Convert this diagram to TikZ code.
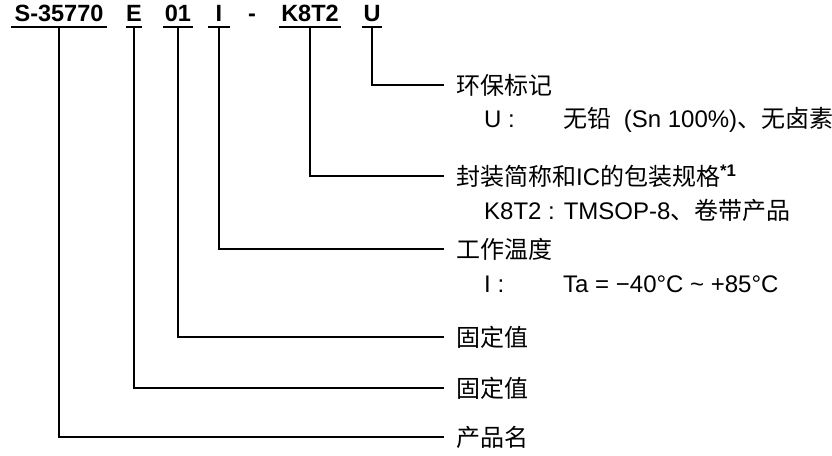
\documentclass[tikz,border=0pt]{standalone}
\usepackage{fontspec}
\setmainfont{Liberation Sans}
\newfontfamily\cjk{Noto Sans CJK SC}

\tikzset{
    code/.style={font=\fontsize{23.5}{26}\selectfont\bfseries, inner xsep=0pt, inner ysep=5pt, text depth=0pt, anchor=south},
    field/.style={font=\fontsize{24}{28}\selectfont, anchor=west, inner xsep=12pt, inner ysep=0pt},
    detail/.style={font=\fontsize{24}{28}\selectfont, anchor=west, inner sep=0pt},
    link/.style={line width=1.6pt},
}

\begin{document}
\begin{tikzpicture}[x=1pt,y=-1pt]

    \useasboundingbox (0,0) rectangle (832,455);

    \node[code,minimum width=96pt] (S) at (59,27) {S-35770};
    \node[code,minimum width=14pt] (E) at (134,27) {E};
    \node[code,minimum width=30pt] (N) at (178,27) {01};
    \node[code,minimum width=22pt] (I) at (219,27) {I};
    \node[code] (dash) at (252,27) {-};
    \node[code,minimum width=62pt] (K) at (310,27) {K8T2};
    \node[code,minimum width=20pt] (U) at (372,27) {U};

    \node[field] (env) at (444,85) {\cjk 环保标记};
    \node[detail] (envU) at (484,120) {\makebox[79pt][l]{U :}{\cjk 无铅}\hspace{6pt} (Sn 100\%){\cjk 、无卤素}};
    \node[field] (pkg) at (444,176) {{\cjk 封装简称和}IC{\cjk 的包装规格}\textsuperscript{\bfseries *1}};
    \node[detail] (pkgK) at (484,210) {K8T2 : TMSOP-8{\cjk 、卷带产品}};
    \node[field] (temp) at (444,249) {\cjk 工作温度};
    \node[detail] (tempI) at (484,284) {\makebox[79pt][l]{I :}Ta = −40°C \textasciitilde{} +85°C};
    \node[field] (fixA) at (444,337) {\cjk 固定值};
    \node[field] (fixB) at (444,388) {\cjk 固定值};
    \node[field] (name) at (444,437) {\cjk 产品名};

    \foreach \n in {S,E,N,I,K,U}
        \draw[link] (\n.south west) -- (\n.south east);

    \draw[link] (U.south) |- (env.west);
    \draw[link] (K.south) |- (pkg.west);
    \draw[link] (I.south) |- (temp.west);
    \draw[link] (N.south) |- (fixA.west);
    \draw[link] (E.south) |- (fixB.west);
    \draw[link] (S.south) |- (name.west);

\end{tikzpicture}
\end{document}
